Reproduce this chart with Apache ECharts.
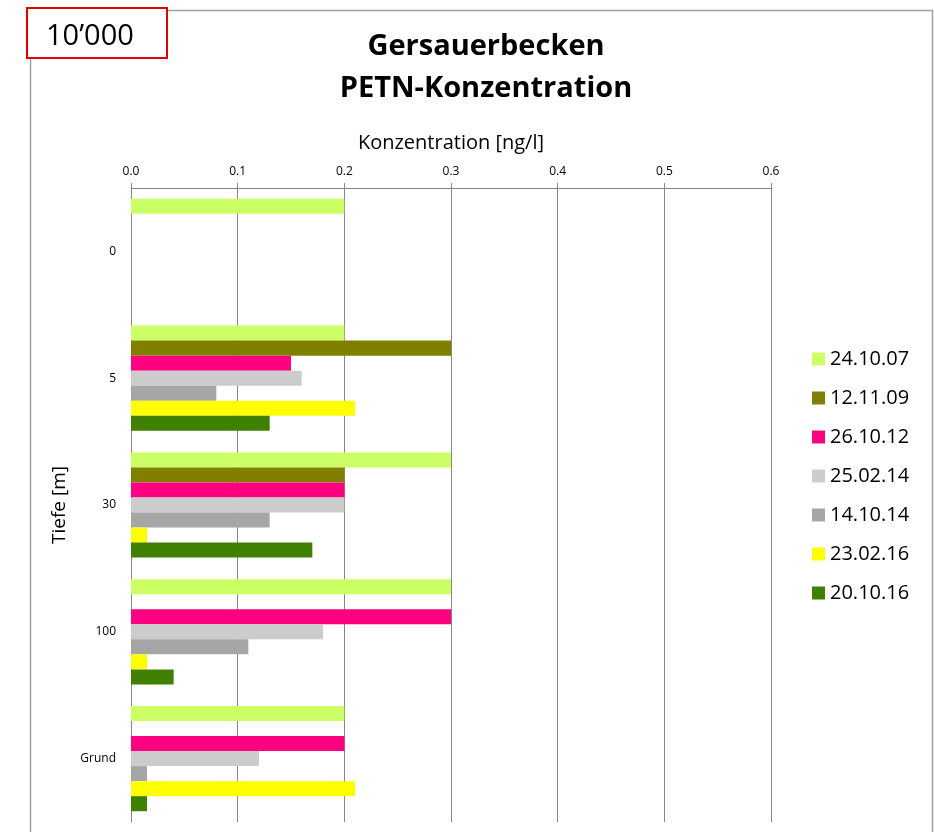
<!DOCTYPE html>
<html>
<head>
<meta charset="utf-8">
<script src="https://cdn.jsdelivr.net/npm/echarts@6/dist/echarts.min.js"></script>
<style>
  html, body { margin: 0; padding: 0; background: #fff; }
  #chart { width: 934px; height: 832px; }
</style>
</head>
<body>
<div id="chart"></div>
<script>
// Tiefen (Kategorien) und Messdaten
var tiefen = ['0', '5', '30', '100', 'Grund'];
var xTicks = [0, 0.1, 0.2, 0.3, 0.4, 0.5, 0.6];

var d241007 = [0.2, 0.2, 0.3, 0.3, 0.2];
var d121109 = [null, 0.3, 0.2, null, null];
var d261012 = [null, 0.15, 0.2, 0.3, 0.2];
var d250214 = [null, 0.16, 0.2, 0.18, 0.12];
var d141014 = [null, 0.08, 0.13, 0.11, 0.015];
var d230216 = [null, 0.21, 0.015, 0.015, 0.21];
var d201016 = [null, 0.13, 0.17, 0.04, 0.015];

var namen = ['24.10.07', '12.11.09', '26.10.12', '25.02.14', '14.10.14', '23.02.16', '20.10.16'];
var farben = ['#CCFF66', '#808000', '#FF0080', '#CCCCCC', '#A6A6A6', '#FFFF00', '#408000'];
var werte = [d241007, d121109, d261012, d250214, d141014, d230216, d201016];

var series = [];
for (var i = 0; i < namen.length; i++) {
    series.push({
        name: namen[i],
        type: 'bar',
        data: werte[i],
        itemStyle: { color: farben[i] },
        barGap: '0%',
        barCategoryGap: '17%'
    });
}

var myChart = echarts.init(document.getElementById('chart'));
myChart.setOption({
    backgroundColor: '#fff',
    animation: false,
    textStyle: { fontFamily: 'Open Sans' },
    title: {
        text: 'Gersauerbecken\nPETN-Konzentration',
        left: 481,
        textAlign: 'center',
        top: 21,
        textStyle: {
            fontFamily: 'Open Sans',
            fontWeight: 'bold',
            fontSize: 29,
            lineHeight: 42,
            color: '#000'
        }
    },
    legend: {
        orient: 'vertical',
        left: 807,
        top: 344,
        itemWidth: 13,
        itemHeight: 13,
        itemGap: 19,
        icon: 'rect',
        textStyle: { fontFamily: 'Open Sans', fontSize: 20, lineHeight: 20, color: '#000' },
        data: namen
    },
    grid: {
        left: 131,
        right: 163,
        top: 188,
        bottom: 10
    },
    xAxis: {
        type: 'value',
        position: 'top',
        min: 0,
        max: 0.6,
        interval: 0.1,
        name: 'Konzentration [ng/l]',
        nameLocation: 'middle',
        nameGap: 35,
        nameTextStyle: { fontFamily: 'Open Sans', fontSize: 20, color: '#000' },
        axisLine: { show: true, lineStyle: { color: '#868686', width: 1 } },
        axisTick: { show: true, length: 5, lineStyle: { color: '#868686' } },
        axisLabel: {
            fontSize: 12,
            color: '#000',
            margin: 10,
            formatter: function (v) { return v.toFixed(1); }
        },
        splitLine: { show: true, lineStyle: { color: '#868686', width: 1 } }
    },
    yAxis: {
        type: 'category',
        inverse: true,
        data: tiefen,
        name: 'Tiefe [m]',
        nameLocation: 'middle',
        nameGap: 58,
        nameRotate: 90,
        nameTextStyle: { fontFamily: 'Open Sans', fontSize: 19, color: '#000' },
        axisLine: { show: true, lineStyle: { color: '#868686', width: 1 } },
        axisTick: { show: false },
        axisLabel: { fontSize: 12, color: '#000', margin: 15 }
    },
    graphic: [
        {
            type: 'rect',
            left: 28, top: 8,
            shape: { width: 902, height: 840 },
            style: { fill: 'none', stroke: '#A0A0A0', lineWidth: 1.5 },
            silent: true
        },
        {
            type: 'rect',
            left: 26, top: 7,
            shape: { width: 140, height: 50 },
            style: { fill: '#fff', stroke: '#E00000', lineWidth: 2 }
        },
        {
            type: 'text',
            left: 46, top: 22,
            style: { text: '10\u2019000', font: '29px "Open Sans"', fill: '#000' }
        }
    ],
    series: series
});
</script>
</body>
</html>
